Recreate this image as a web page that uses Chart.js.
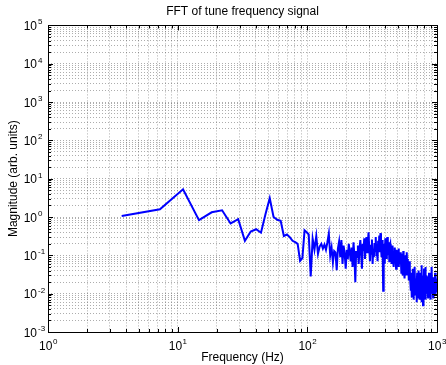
<!DOCTYPE html>
<html><head><meta charset="utf-8">
<script src="https://cdn.jsdelivr.net/npm/chart.js@4.4.1/dist/chart.umd.min.js"></script>
<style>html,body{margin:0;padding:0;background:#fff}</style>
</head><body>
<canvas id="c" width="446" height="365"></canvas>
<script>
const chartTitle = 'FFT of tune frequency signal';
const xTitle = 'Frequency (Hz)';
const yTitle = 'Magnitude (arb. units)';
const xDecades = [1, 10, 100, 1000];
const yDecades = [1e-3, 1e-2, 1e-1, 1, 10, 100, 1e3, 1e4, 1e5];

const frequencies = [
3.7,7.3,11.0,14.6,18.3,22.0,25.6,29.3,33.0,36.6,
40.3,43.9,47.6,51.3,54.9,58.6,62.3,65.9,69.6,73.2,
76.9,80.6,84.2,87.9,91.6,95.2,98.9,102.5,106.2,109.9,
113.5,117.2,120.8,124.5,128.2,131.8,135.5,139.2,142.8,146.5,
150.1,153.8,157.5,161.1,164.8,168.5,172.1,175.8,179.4,183.1,
186.8,190.4,194.1,197.7,201.4,205.1,208.7,212.4,216.1,219.7,
223.4,227.0,230.7,234.4,238.0,241.7,245.4,249.0,252.7,256.3,
260.0,263.7,267.3,271.0,274.7,278.3,282.0,285.6,289.3,293.0,
296.6,300.3,303.9,307.6,311.3,314.9,318.6,322.3,325.9,329.6,
333.2,336.9,340.6,344.2,347.9,351.6,355.2,358.9,362.5,366.2,
369.9,373.5,377.2,380.8,384.5,388.2,391.8,395.5,399.2,402.8,
406.5,410.1,413.8,417.5,421.1,424.8,428.5,432.1,435.8,439.4,
443.1,446.8,450.4,454.1,457.8,461.4,465.1,468.7,472.4,476.1,
479.7,483.4,487.0,490.7,494.4,498.0,501.7,505.4,509.0,512.7,
516.3,520.0,523.7,527.3,531.0,534.7,538.3,542.0,545.6,549.3,
553.0,556.6,560.3,563.9,567.6,571.3,574.9,578.6,582.3,585.9,
589.6,593.2,596.9,600.6,604.2,607.9,611.6,615.2,618.9,622.5,
626.2,629.9,633.5,637.2,640.9,644.5,648.2,651.8,655.5,659.2,
662.8,666.5,670.1,673.8,677.5,681.1,684.8,688.5,692.1,695.8,
699.4,703.1,706.8,710.4,714.1,717.8,721.4,725.1,728.7,732.4,
736.1,739.7,743.4,747.1,750.7,754.4,758.0,761.7,765.4,769.0,
772.7,776.4,780.0,783.7,787.3,791.0,794.7,798.3,802.0,805.6,
809.3,813.0,816.6,820.3,824.0,827.6,831.3,834.9,838.6,842.3,
845.9,849.6,853.2,856.9,860.6,864.2,867.9,871.6,875.2,878.9,
882.5,886.2,889.9,893.5,897.2,900.9,904.5,908.2,911.8,915.5,
919.2,922.8,926.5,930.1,933.8,937.5,941.1,944.8,948.5,952.1,
955.8,959.4,963.1,966.8,970.4,974.1,977.8,981.4,985.1,988.7,
992.4,996.1,999.7
];

const magnitudes = [
1.07,1.6,5.3,0.83,1.33,1.5,0.68,0.88,0.24,0.42,
0.48,0.39,1.2,3.1,1.0,0.85,0.8,0.32,0.35,0.3,
0.24,0.22,0.2,0.072,0.085,0.45,0.4,0.35,0.028,0.27,
0.14,0.32,0.11,0.17,0.2,0.15,0.19,0.14,0.22,0.37,
0.1,0.16,0.066,0.13,0.12,0.041,0.15,0.23,0.09,0.25,
0.06,0.18,0.11,0.045,0.14,0.08,0.2,0.12,0.07,0.16,
0.05,0.22,0.1,0.02,0.13,0.09,0.18,0.06,0.15,0.25,
0.11,0.045,0.2,0.13,0.28,0.08,0.17,0.3,0.12,0.22,
0.4,0.15,0.07,0.19,0.11,0.26,0.06,0.14,0.09,0.21,
0.13,0.3,0.1,0.18,0.07,0.24,0.15,0.33,0.12,0.38,
0.17,0.09,0.25,0.14,0.012,0.1,0.2,0.06,0.28,0.13,
0.19,0.08,0.3,0.16,0.11,0.22,0.07,0.18,0.2,0.09,
0.15,0.06,0.12,0.18,0.08,0.13,0.05,0.1,0.16,0.07,
0.11,0.045,0.09,0.14,0.06,0.12,0.08,0.15,0.05,0.1,
0.07,0.12,0.06,0.09,0.035,0.11,0.05,0.08,0.03,0.13,
0.06,0.04,0.09,0.025,0.07,0.1,0.045,0.06,0.03,0.12,
0.05,0.08,0.035,0.06,0.022,0.05,0.07,0.03,0.045,0.02,
0.035,0.012,0.025,0.008,0.03,0.015,0.045,0.01,0.022,0.007,
0.018,0.03,0.012,0.05,0.015,0.009,0.025,0.013,0.02,0.006,
0.017,0.035,0.011,0.024,0.008,0.016,0.04,0.012,0.02,0.007,
0.028,0.014,0.022,0.009,0.035,0.013,0.055,0.018,0.006,0.02,
0.011,0.03,0.005,0.016,0.025,0.01,0.045,0.015,0.008,0.022,
0.012,0.05,0.017,0.007,0.02,0.013,0.03,0.015,0.022,0.01,
0.018,0.028,0.008,0.014,0.02,0.012,0.035,0.016,0.009,0.025,
0.013,0.019,0.007,0.017,0.03,0.011,0.021,0.014,0.05,0.018,
0.01,0.024,0.012,0.016,0.008,0.02,0.013,0.027,0.011,0.018,
0.009,0.022,0.014,0.035,0.012,0.017,0.01,0.02,0.013,0.025,
0.011,0.016,0.019
];

function decadeExp(v) {
  const e = Math.round(Math.log10(v));
  const p = Math.pow(10, e);
  return Math.abs(v - p) / p > 1e-6 ? null : e;
}
function powLabel(v) {
  const e = decadeExp(v);
  return e === null ? '' : '10^' + e;
}
function decadeTicks(decades) {
  const t = [];
  for (let i = 0; i < decades.length - 1; i++) {
    for (let m = 1; m <= 9; m++) t.push({ value: m * decades[i], major: m === 1 });
  }
  t.push({ value: decades[decades.length - 1], major: true });
  return t;
}

const points = frequencies.map((f, i) => ({ x: f, y: magnitudes[i] }));
const FONT = "'Liberation Sans', Arial, Helvetica, sans-serif";
const BASE_FONT = '12px ' + FONT;
const EXP_FONT = '8px ' + FONT;

const boxPlugin = {
  id: 'box',
  afterDraw(chart) {
    const { ctx, chartArea: a, scales } = chart;
    ctx.save();
    ctx.strokeStyle = '#000';
    ctx.lineWidth = 1;
    ctx.beginPath();
    scales.x.ticks.forEach(t => {
      const px = Math.round(scales.x.getPixelForValue(t.value)) + 0.5;
      const len = t.major ? 5 : 3;
      ctx.moveTo(px, a.bottom); ctx.lineTo(px, a.bottom - len);
      ctx.moveTo(px, a.top); ctx.lineTo(px, a.top + len);
    });
    scales.y.ticks.forEach(t => {
      const py = Math.round(scales.y.getPixelForValue(t.value)) + 0.5;
      const len = t.major ? 5 : 3;
      ctx.moveTo(a.left, py); ctx.lineTo(a.left + len, py);
      ctx.moveTo(a.right, py); ctx.lineTo(a.right - len, py);
    });
    ctx.stroke();
    ctx.strokeRect(Math.round(a.left) + 0.5, Math.round(a.top) + 0.5, Math.round(a.right - a.left), Math.round(a.bottom - a.top));

    // decade labels drawn as "10" with raised exponent
    ctx.fillStyle = '#000';
    ctx.textBaseline = 'alphabetic';
    scales.x.ticks.forEach(t => {
      const e = decadeExp(t.value);
      if (e === null) return;
      const px = scales.x.getPixelForValue(t.value);
      ctx.font = BASE_FONT; const w1 = ctx.measureText('10').width;
      ctx.font = EXP_FONT; const w2 = ctx.measureText(String(e)).width;
      const x0 = px - (w1 + w2) / 2;
      ctx.font = BASE_FONT; ctx.textAlign = 'left';
      ctx.fillText('10', x0, a.bottom + 18);
      ctx.font = EXP_FONT;
      ctx.fillText(String(e), x0 + w1 + 0.5, a.bottom + 12);
    });
    scales.y.ticks.forEach(t => {
      const e = decadeExp(t.value);
      if (e === null) return;
      const py = scales.y.getPixelForValue(t.value);
      ctx.font = BASE_FONT; ctx.textAlign = 'right';
      ctx.fillText('10', a.left - 11, py + 4.5);
      ctx.font = EXP_FONT; ctx.textAlign = 'left';
      ctx.fillText(String(e), a.left - 10, py - 1);
    });
    ctx.restore();
  }
};

new Chart(document.getElementById('c'), {
  type: 'line',
  data: {
    datasets: [{
      data: points,
      borderColor: '#0000ff',
      borderWidth: 2,
      pointRadius: 0,
      tension: 0,
      fill: false
    }]
  },
  options: {
    responsive: false,
    animation: false,
    devicePixelRatio: 1,
    layout: { padding: { left: 0, right: 9, top: 0, bottom: 0 } },
    plugins: {
      legend: { display: false },
      tooltip: { enabled: false },
      title: {
        display: true, text: chartTitle, color: '#000', fullSize: false,
        font: { family: FONT, size: 12, weight: 'normal' },
        padding: { top: 4, bottom: 7 }
      }
    },
    scales: {
      x: {
        type: 'logarithmic', min: 1, max: 1000,
        afterBuildTicks: s => { s.ticks = decadeTicks(xDecades); },
        afterFit: s => { s.height = 33; s.paddingLeft = 0; s.paddingRight = 0; },
        grid: { color: 'rgba(0,0,0,0.32)', drawTicks: false, lineWidth: 1 },
        border: { display: false, dash: [1, 2] },
        ticks: {
          autoSkip: false, maxRotation: 0, padding: 7, color: 'rgba(0,0,0,0)',
          font: { family: FONT, size: 12 },
          callback: v => powLabel(v)
        },
        title: {
          display: true, text: xTitle, color: '#000',
          font: { family: FONT, size: 12 }, padding: { top: 0, bottom: 0 }
        }
      },
      y: {
        type: 'logarithmic', min: 1e-3, max: 1e5,
        afterBuildTicks: s => { s.ticks = decadeTicks(yDecades); },
        afterFit: s => { s.width = 48; s.paddingTop = 0; s.paddingBottom = 0; },
        grid: { color: 'rgba(0,0,0,0.32)', drawTicks: false, lineWidth: 1 },
        border: { display: false, dash: [1, 2] },
        ticks: {
          autoSkip: false, padding: 5, color: 'rgba(0,0,0,0)',
          font: { family: FONT, size: 12 },
          callback: v => powLabel(v)
        },
        title: {
          display: true, text: yTitle, color: '#000',
          font: { family: FONT, size: 12 }, padding: { top: 6, bottom: 0 }
        }
      }
    }
  },
  plugins: [boxPlugin]
});
</script>
</body></html>
